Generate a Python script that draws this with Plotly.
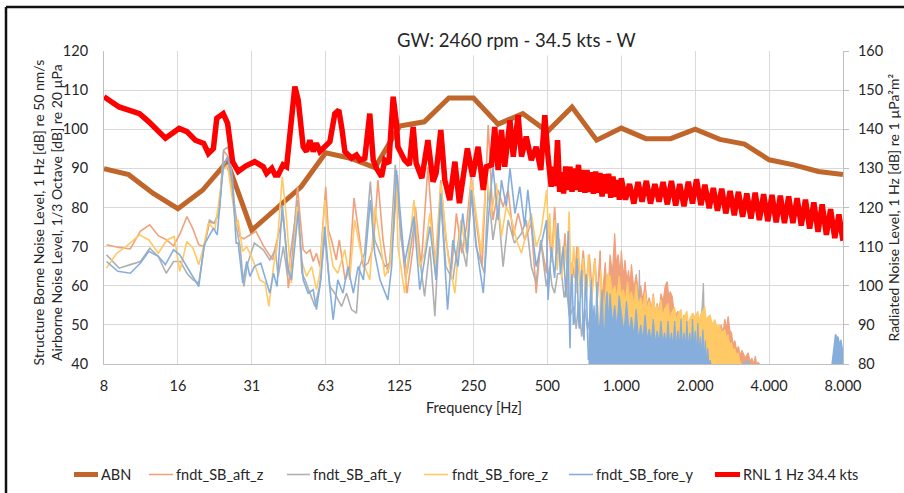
import math
import plotly.graph_objects as go

# ---------------- data ----------------
x_tick_vals = [7.8125, 15.625, 31.25, 62.5, 125, 250, 500, 1000, 2000, 4000, 8000]
x_tick_text = ["8", "16", "31", "63", "125", "250", "500", "1.000", "2.000", "4.000", "8.000"]

abn_f = [7.8125, 9.843, 12.402, 15.625, 19.686, 24.803, 31.25, 39.373, 49.606, 62.5, 78.745,
         99.213, 125, 157.49, 198.43, 250, 314.98, 396.85, 500, 629.96, 793.7, 1000, 1259.9,
         1587.4, 2000, 2519.8, 3174.8, 4000, 5039.7, 6349.6, 8000]
abn_v = [89.9, 88.4, 83.6, 79.7, 84.4, 91.7, 74.2, 79.9, 85.3, 94.0, 92.6, 90.2, 100.8, 101.9,
         108.0, 108.0, 101.3, 104.0, 99.4, 105.7, 97.2, 100.3, 97.6, 97.6, 100.0, 97.4, 96.2,
         92.2, 90.9, 89.2, 88.4]

aft_z_f = [8, 9, 10, 11, 12, 13, 14, 15, 16, 17, 18, 19, 20, 21, 22, 23, 24, 25, 26, 27, 28, 29,
           30, 32.5, 35, 38, 39, 40, 42, 43.3, 44, 45.3, 48, 49, 50.6, 52.2, 54, 55.6, 57.3, 59.2,
           62.5, 64, 66, 69, 71, 75, 78, 81.5, 86, 89, 93, 97.6, 102, 107, 112, 117.7, 122.5,
           125, 134, 142, 145, 153, 163, 171, 176, 184, 193, 203, 213, 224, 234, 245, 256, 271,
           287, 300, 315, 330, 346, 363, 380, 404, 430, 450, 470, 495,
           503, 520, 535, 550, 562, 575, 590, 605, 618, 630, 645, 660, 680, 700, 720, 740, 760,
           780, 800, 820, 830]
aft_z_v = [70.5, 69.8, 69.4, 74.0, 75.6, 72.8, 71.8, 70.2, 73.5, 77.7, 74.5, 70.5, 70.0, 76.2,
           76.0, 78.5, 94.5, 93.0, 84.0, 77.5, 72.5, 72.0, 72.6, 73.9, 70.0, 66.6, 70.0, 72.6,
           78.0, 68.3, 59.4, 64.9, 85.3, 78.5, 69.2, 68.3, 69.2, 66.2, 68.3, 64.9, 85.3, 74.3,
           71.7, 66.6, 71.7, 61.5, 64.0, 82.4, 71.7, 64.9, 65.8, 70.0, 87.0, 71.7, 63.2, 72.6,
           88.3, 76.8, 58.1, 70.0, 80.2, 64.9, 90.4, 71.7, 61.5, 87.0, 71.7, 63.2, 78.5, 68.3,
           75.1, 87.9, 76.8, 64.9, 101.1, 76.8, 84.5, 80.2, 84.5, 72.6, 78.5, 71.7, 76.0, 58.1,
           71.7, 63.2,
           76.8, 66.0, 80.2, 68.0, 70.0, 64.0, 73.4, 60.0, 51.3, 66.0, 62.0, 70.0, 60.0, 69.0,
           58.0, 68.0, 59.0, 67.0, 57.0, 69.0, 42.0]
aft_z_hi_f = [830, 840, 860, 880,
              900, 920, 940, 955, 970, 990, 1000, 1020, 1035, 1055, 1070, 1085, 1100, 1125, 1150,
              1175, 1200, 1225, 1250, 1275, 1300, 1325, 1350, 1375, 1400, 1425, 1450, 1480, 1510,
              1540, 1560, 1580, 1612, 1650, 1700, 1750, 1800, 1850, 1900, 1950, 2000, 2050, 2100,
              2150, 2200, 2250, 2300, 2350, 2404, 2480, 2550, 2600, 2640, 2680, 2724, 2770, 2811,
              2850, 2900, 2950, 3000, 3050, 3100, 3200, 3285, 3350, 3400, 3460, 3518, 3560, 3600,
              3700, 3800]
aft_z_hi_v = [42, 58, 66, 56,
              68, 63, 73.4, 65, 68, 63, 69, 62, 66.6, 61, 64, 60, 65.5, 59, 63, 58, 60, 56, 61,
              55, 57, 54, 58, 53, 55.5, 53, 58, 56, 60, 61.1, 57, 58.5, 57.3, 52, 53.5, 50, 52.5,
              49.5, 51, 48.5, 50.5, 48, 50, 47.5, 49.5, 47, 49, 46.5, 48.5, 47, 50, 48, 51.5, 49,
              52.2, 48.5, 48.0, 45, 46, 43.5, 44.5, 42, 43.5, 41.5, 42.9, 40.5, 41.5, 40, 42.0,
              39.5, 40.5, 39.5, 39.0]

aft_y_f = [8, 9, 10, 11, 12, 13, 14, 15, 16, 17, 18, 19, 20, 21, 22, 23, 24, 25, 26, 27, 28, 29,
           30, 32, 34.8, 37, 39, 40, 42, 43.7, 48, 50, 51.5, 54, 56.5, 59, 62, 65, 68, 72.5, 76,
           79.6, 83.4, 86, 90, 95, 99, 104, 108.8, 114, 120, 127, 134, 144, 154, 158, 166, 174,
           184, 193, 206, 219, 234, 245, 256, 277, 287, 300, 315, 330, 346, 367, 392, 410, 430,
           450, 470, 495,
           511, 522, 535, 550, 571, 585, 598, 615, 640, 655, 670, 690, 710, 730, 750, 770, 790,
           800]
aft_y_v = [67.9, 64.5, 65.4, 66.2, 69.6, 67.5, 63.2, 66.2, 66.2, 63.2, 61.5, 60.7, 70.0, 76.8,
           76.0, 79.0, 94.7, 95.5, 87.9, 75.1, 70.0, 59.8, 65.5, 70.9, 69.2, 66.6, 69.2, 62.4,
           70.0, 62.4, 81.9, 63.2, 61.5, 58.1, 54.7, 59.8, 72.6, 59.8, 58.1, 54.7, 58.1, 53.9,
           53.0, 64.9, 68.3, 86.6, 71.7, 68.3, 64.9, 65.8, 90.9, 71.7, 63.2, 76.8, 63.2, 57.3,
           70.0, 52.2, 81.9, 64.9, 61.5, 73.4, 64.9, 83.6, 70.0, 63.2, 85.3, 71.7, 80.2, 64.9,
           76.8, 70.9, 73.4, 76.8, 64.9, 60.7, 71.7, 59.8,
           64.9, 60.0, 58.1, 63.0, 63.2, 57.0, 59.8, 52.0, 54.7, 49.0, 56.0, 47.0, 54.0, 48.8,
           53.0, 46.2, 52.0, 41.0]
aft_y_hi_f = [800, 815, 840, 870,
              900, 925, 950, 975, 1000, 1025, 1050, 1075, 1100, 1135, 1170, 1185, 1200, 1250,
              1300, 1350, 1400, 1450, 1500, 1550, 1600, 1650, 1700, 1750, 1800, 1850, 1900, 1950,
              2000, 2050, 2100, 2140, 2160, 2180, 2250, 2300, 2350, 2450, 2500, 2600, 2700, 2800,
              2900, 3000, 3100, 3300, 3400]
aft_y_hi_v = [41, 46, 51, 45,
              50, 46, 48, 45, 50, 45, 47, 44, 49, 44, 47, 64.0, 48, 44, 46, 43, 45, 42, 44, 42,
              46, 42, 44, 42, 45, 42, 44, 42, 46, 43, 47, 55, 60.7, 50, 46, 42, 44, 41, 43, 40.5,
              42, 39.5, 41, 39.5, 40, 41, 39]

fore_z_f = [8, 8.8, 9.6, 10.9, 11.9, 13, 14.1, 15.1, 15.9, 17, 18, 19, 19.9, 20.8, 22.1, 23.9,
            24.9, 26, 27, 27.5, 28.7, 29.8, 31.6, 33.7, 35.4, 36.7, 38.3, 39.6, 41.6, 43.3, 45.3,
            47.8, 49.8, 52.2, 54.8, 57.3, 59.2, 62, 64, 67, 70, 74.8, 78.3, 82, 86, 90, 94.5, 99,
            104, 108.8, 114, 121.4, 123, 131, 143, 151, 158, 166, 174, 184, 197, 210, 222, 234,
            245, 256, 269, 282, 296, 310, 325, 340, 358, 374, 392, 410, 430, 450, 470, 497,
            505, 511, 522, 535, 548, 560, 571, 590, 602, 613, 625, 640, 655, 669, 685, 700, 715,
            735, 755, 780, 800, 812]
fore_z_v = [64.5, 68.3, 70.0, 73.0, 71.7, 68.3, 71.7, 72.6, 63.7, 71.3, 69.6, 65.4, 70.0, 76.0,
            74.3, 89.6, 90.9, 81.9, 75.1, 76.8, 68.8, 70.0, 66.6, 61.5, 60.7, 54.7, 64.9, 70.0,
            87.9, 76.8, 60.7, 80.2, 66.6, 62.4, 64.9, 59.0, 63.2, 81.9, 72.6, 64.9, 63.2, 69.2,
            61.5, 76.8, 70.0, 64.9, 61.5, 80.2, 71.7, 62.4, 64.9, 87.9, 70.0, 58.1, 81.9, 64.9,
            68.3, 78.5, 64.9, 86.2, 67.5, 58.1, 76.8, 68.3, 87.0, 78.5, 68.3, 88.7, 78.5, 86.2,
            72.6, 80.2, 76.8, 71.7, 68.3, 73.4, 78.5, 70.0, 73.4, 84.5,
            72.0, 78.5, 66.0, 76.8, 64.0, 72.0, 62.0, 70.0, 64.0, 79.0, 60.0, 70.0, 58.0, 70.0,
            57.0, 67.0, 56.0, 68.0, 55.0, 66.6, 54.0, 42.0]
fore_z_hi_f = [812, 825, 850, 875,
               900, 920, 940, 960, 980, 1000, 1020, 1040, 1060, 1080, 1100, 1125, 1150, 1175,
               1200, 1225, 1250, 1275, 1300, 1325, 1350, 1375, 1400, 1425, 1450, 1475, 1500, 1550,
               1575, 1600, 1650, 1675, 1700, 1750, 1775, 1800, 1850, 1875, 1900, 1950, 2000, 2050,
               2075, 2100, 2150, 2186, 2220, 2250, 2300, 2350, 2404, 2450, 2500, 2570, 2640, 2680,
               2720, 2760, 2811, 2850, 2900, 2950, 2992, 3040, 3087, 3150]
fore_z_hi_v = [42, 64, 53, 63,
               62.4, 58, 60, 57, 62.5, 57.5, 59, 56, 61, 56.5, 58.5, 55, 60.5, 55, 57, 54, 58.5,
               54, 56, 53, 57.5, 53, 55, 52.5, 56.5, 52, 54, 55.5, 51.5, 53, 54.5, 51, 52.5, 54,
               50.5, 52, 53.5, 50, 51.5, 53, 52, 53.5, 50.5, 52.5, 53.5, 54.8, 51, 52, 52.5, 50,
               51.4, 49.5, 50, 48, 48.8, 46.5, 47.5, 45, 45.4, 43.5, 44, 42, 42.9, 40.5, 40.0, 38]

fore_y_f = [8, 8.9, 10, 11, 11.9, 13, 13.9, 15, 15.9, 17, 18, 19, 20, 20.8, 21.8, 22.6, 23.9,
            24.9, 26, 27, 27.5, 28.7, 29.8, 30.7, 32, 34, 36, 37, 38.3, 39.6, 41.6, 43.7, 45.3,
            48.3, 50.6, 53, 55.6, 57.3, 59.7, 62, 64.5, 67, 70, 73.5, 77, 81, 84.7, 89, 95, 99,
            104, 112, 116, 121.4, 131, 137, 143, 151, 158, 166, 176, 184, 196, 206, 216, 226, 236,
            245, 256, 274, 287, 300, 315, 325, 340, 352, 369, 386, 404, 416, 436, 450, 470, 496,
            503, 519, 535, 552, 565, 580, 595, 602, 608, 613, 618, 624, 630, 638, 645, 652, 660,
            668, 675, 682, 690, 698, 705, 712, 720, 728, 735]
fore_y_v = [66.2, 63.7, 63.2, 65.8, 68.8, 67.5, 65.4, 69.2, 67.9, 64.9, 62.4, 59.8, 70.5, 72.6,
            74.7, 73.0, 90.4, 93.0, 87.0, 70.9, 70.9, 60.7, 66.2, 62.4, 64.9, 65.8, 60.7, 58.1,
            63.2, 59.8, 80.7, 64.9, 61.5, 79.0, 61.5, 58.1, 59.0, 53.9, 61.5, 75.1, 61.5, 51.3,
            61.5, 58.1, 64.9, 58.1, 64.9, 61.5, 81.9, 68.3, 61.5, 56.4, 64.9, 89.6, 65.8, 71.7,
            77.7, 59.0, 66.6, 75.1, 61.5, 83.6, 53.9, 71.7, 64.9, 78.5, 68.3, 84.5, 70.9, 58.1,
            76.8, 90.4, 76.8, 87.0, 80.2, 90.0, 78.5, 85.3, 75.1, 84.5, 72.6, 64.9, 70.0, 76.8,
            56.4, 70.0, 62.0, 76.0, 63.0, 70.0, 57.0, 68.0, 74.0, 55.0, 44.0, 60.0, 63.0, 50.0,
            51.0, 62.0, 67.0, 52.0, 49.0, 60.0, 64.0, 50.0, 46.0, 58.0, 63.0, 48.0, 41.0]
fore_y_hi_f = [735, 745, 755, 765, 775, 785, 795, 805, 815, 825, 835, 845, 855, 865, 875, 888,
               900, 920, 940, 960, 980, 1000, 1025, 1050, 1075, 1100, 1125, 1150, 1175,
               1200, 1225, 1250, 1275, 1300, 1325, 1350, 1375, 1400, 1425, 1450, 1475, 1500, 1525,
               1550, 1575, 1600, 1625, 1650, 1675, 1700, 1725, 1750, 1775, 1800, 1825, 1850, 1875,
               1900, 1925, 1950, 1975, 2000, 2025, 2050, 2075, 2100, 2125, 2150, 2175, 2200, 2225,
               2250, 2280, 2300, 2350, 7150, 7250, 7350, 7450, 7550, 7650, 7750, 7850, 7950, 8000]
fore_y_hi_v = [41, 56, 61.5, 50, 55, 48, 61, 50, 49, 56, 59, 49, 48, 55, 58.5, 50,
               58, 50, 55, 49, 57.5, 53, 48, 56, 48, 52, 47, 54, 46, 50, 46, 52.5, 46, 49, 45.5,
               51.5, 45, 48.5, 45, 51, 45, 48, 44.5, 51, 44.5, 48, 44, 51, 44, 48.5, 44, 51.5, 44,
               48, 43.5, 51, 43.5, 48, 43, 51.5, 43, 48.5, 42, 50.5, 42, 47, 41, 48.8, 40, 46, 39,
               44, 38.5, 41, 38, 38, 41, 45.5, 47.6, 47.0, 46.8, 45.0, 46.2, 44.0, 43.2]

rnl_f = [7.8125, 9.0, 10.9, 11.9, 13.9, 15.8, 17.0, 18.4, 19.9, 20.8, 21.8, 22.5, 23.9, 24.9,
         26.1, 27.5, 29.5, 32.1, 34.8, 35.9, 37.7, 38.9, 40.0, 41.9, 43.3, 45.3, 46.8, 48.3, 50.6,
         52.2, 53.9, 55.6, 57.3, 59.2, 61.0, 65.0, 68.1, 70.7, 72.9, 74.8, 79.6, 83.4, 86.1, 90.2,
         94.5, 97.6, 100.7, 105.5, 108.8, 113.0, 117.7, 121.4, 123, 131, 137, 142, 146, 154, 163,
         171, 176, 184, 191, 200, 210, 219, 226, 236, 248, 261, 274, 282, 296, 305, 315, 325,
         335, 352, 363, 380, 392, 410, 430, 450, 470, 488, 503, 518, 526, 538, 550, 561, 571,
         582, 594, 606, 618, 630, 643, 656, 669, 683, 697, 711, 725, 740, 755, 770, 786, 802,
         818, 835, 852, 870, 888, 906, 925, 944, 963, 982, 1000, 1040, 1080, 1125, 1170, 1215,
         1265, 1315, 1370, 1425, 1480, 1540, 1600, 1665, 1730, 1800, 1875, 1950, 2025, 2110,
         2190, 2280, 2370, 2465, 2565, 2665, 2775, 2885, 3000, 3120, 3245, 3375, 3510, 3650,
         3800, 3950, 4110, 4275, 4445, 4620, 4805, 5000, 5200, 5410, 5625, 5850, 6085, 6330,
         6580, 6845, 7120, 7405, 7700, 8000]
rnl_v = [148.3, 145.7, 144.0, 141.9, 137.7, 140.2, 139.4, 137.2, 136.4, 133.8, 135.1, 142.8,
         144.0, 141.5, 131.7, 129.2, 130.6, 131.7, 130.4, 128.7, 130.0, 128.3, 128.3, 130.9,
         130.4, 143.2, 150.9, 147.4, 135.5, 134.3, 137.2, 134.3, 136.4, 134.3, 135.1, 136.8,
         144.0, 144.9, 139.8, 134.3, 132.6, 133.4, 132.1, 132.6, 144.0, 132.1, 130.0, 127.9,
         132.1, 131.3, 148.3, 141.5, 135.5, 132.1, 130.9, 140.6, 131.3, 127.5, 137.2, 126.6,
         128.7, 139.8, 127.0, 121.9, 131.7, 121.1, 127.0, 135.1, 127.9, 135.5, 124.5, 130.4,
         130.9, 140.6, 129.6, 139.8, 130.4, 142.3, 133.0, 143.6, 133.0, 138.1, 132.1, 135.5,
         129.6, 143.6, 133.0, 125.3, 130.4, 125.5, 137.2, 124.0, 129.0, 123.6, 130.5, 124.5,
         130.4, 124.0, 130.0, 124.5, 130.9, 124.0, 129.6, 123.8, 129.6, 124.0, 129.0, 123.5,
         129.2, 123.8, 128.8, 122.8, 128.5, 123.6, 128.6, 122.5, 127.9, 122.8, 127.0, 122.0,
         127.5, 122.0, 126.0, 121.0, 126.5, 121.5, 126.8, 121.0, 126.0, 121.5, 126.5, 120.8,
         126.8, 120.5, 126.0, 120.3, 126.6, 121.0, 127.2, 120.6, 125.8, 119.8, 125.0, 119.2,
         124.8, 118.5, 124.2, 118.0, 124.0, 117.6, 123.6, 117.2, 123.8, 116.8, 123.4, 116.5,
         123.2, 116.2, 123.0, 116.0, 122.8, 116.0, 122.4, 115.4, 122.0, 114.6, 121.3, 113.8,
         120.8, 113.0, 119.6, 112.2, 118.2, 111.5]

# ---------------- styles ----------------
FONT = "Lato"
TXT = "#262626"
C_ABN = "#C0662A"
C_AZ = "#F0A07A"
C_AY = "#B0B0B0"
C_FZ = "#FFC966"
C_FY = "#86AEDC"
C_RNL = "#FF0000"
GRID = "#D9D9D9"
FS = 14.5

W, H = 904, 493
ML, MR, MT, MB = 104, 61, 51, 129
PW, PH = W - ML - MR, H - MT - MB


def px(x):
    return (x - ML) / PW


def py(y):
    return (H - MB - y) / PH


fig = go.Figure()

fig.add_trace(go.Scatter(x=abn_f, y=abn_v, mode="lines", line=dict(color=C_ABN, width=5),
                         name="ABN"))

series = [
    (aft_z_f, aft_z_v, aft_z_hi_f, aft_z_hi_v, C_AZ, "fndt_SB_aft_z"),
    (aft_y_f, aft_y_v, aft_y_hi_f, aft_y_hi_v, C_AY, "fndt_SB_aft_y"),
    (fore_z_f, fore_z_v, fore_z_hi_f, fore_z_hi_v, C_FZ, "fndt_SB_fore_z"),
    (fore_y_f, fore_y_v, fore_y_hi_f, fore_y_hi_v, C_FY, "fndt_SB_fore_y"),
]
for lf, lv, hf, hv, col, nm in series:
    fig.add_trace(go.Scatter(x=lf, y=lv, mode="lines", line=dict(color=col, width=1.6), name=nm))
    fig.add_trace(go.Scatter(x=hf, y=hv, mode="lines", line=dict(color=col, width=1.2),
                             fill="tozeroy", fillcolor=col, name=nm, showlegend=False))

fig.add_trace(go.Scatter(x=rnl_f, y=rnl_v, mode="lines", yaxis="y2",
                         line=dict(color=C_RNL, width=5.5), name="RNL 1 Hz 34.4 kts"))

fig.update_layout(
    width=W, height=H,
    margin=dict(l=ML, r=MR, t=MT, b=MB),
    paper_bgcolor="white", plot_bgcolor="white",
    showlegend=False,
    font=dict(family=FONT, size=FS, color=TXT),
    xaxis=dict(type="log", range=[math.log10(7.8125), math.log10(8000)],
               tickvals=x_tick_vals, ticktext=x_tick_text, showgrid=True, gridcolor=GRID,
               gridwidth=1, showline=True, linecolor="#BFBFBF", linewidth=1, ticks="",
               ticklabelstandoff=9, zeroline=False, tickfont=dict(size=FS, color=TXT)),
    yaxis=dict(range=[40, 120], dtick=10, tick0=40, showgrid=True, gridcolor=GRID, gridwidth=1,
               showline=True, linecolor="#BFBFBF", linewidth=1, ticks="", zeroline=False,
               ticklabelstandoff=12, tickfont=dict(size=FS, color=TXT)),
    yaxis2=dict(range=[80, 160], dtick=10, tick0=80, overlaying="y", side="right",
                showgrid=False, showline=True, linecolor="#BFBFBF", linewidth=1,
                ticks="outside", ticklen=5, tickcolor="#BFBFBF", zeroline=False,
                ticklabelstandoff=6, tickfont=dict(size=FS, color=TXT)),
)

ann = []
ann.append(dict(text="GW: 2460 rpm - 34.5 kts - W", x=px(516), y=py(40), xref="paper",
                yref="paper", xanchor="center", yanchor="middle", showarrow=False,
                bgcolor="white", borderpad=4, font=dict(size=18.5, color=TXT)))
ann.append(dict(text="Frequency [Hz]", x=px(473.5), y=py(407), xref="paper", yref="paper",
                xanchor="center", yanchor="middle", showarrow=False,
                font=dict(size=FS, color=TXT)))
ann.append(dict(text="Structure Borne Noise Level, 1 Hz [dB] re 50 nm/s<br>"
                     "Airborne Noise Level, 1/3 Octave [dB] re 20 µPa",
                x=px(46.5), y=py(213), xref="paper", yref="paper", textangle=-90,
                xanchor="center", yanchor="middle", showarrow=False,
                font=dict(size=14, color=TXT)))
ann.append(dict(text="Radiated Noise Level, 1 Hz [dB] re 1 µPa²m²",
                x=px(893), y=py(207.5), xref="paper", yref="paper", textangle=-90,
                xanchor="center", yanchor="middle", showarrow=False,
                font=dict(size=14, color=TXT)))

legend_items = [
    ("ABN", C_ABN, 5, 74, 98, 99),
    ("fndt_SB_aft_z", C_AZ, 1.6, 149, 173, 174),
    ("fndt_SB_aft_y", C_AY, 1.6, 287, 310, 311),
    ("fndt_SB_fore_z", C_FZ, 1.6, 424, 448, 450),
    ("fndt_SB_fore_y", C_FY, 1.6, 569, 593, 594),
    ("RNL 1 Hz 34.4 kts", C_RNL, 5, 715, 740, 741),
]
shapes = []
LY = 474.5
for name, col, wdt, x0, x1, tx in legend_items:
    shapes.append(dict(type="line", xref="paper", yref="paper", x0=px(x0), x1=px(x1),
                       y0=py(LY), y1=py(LY), line=dict(color=col, width=wdt)))
    ann.append(dict(text=name, x=px(tx), y=py(LY), xref="paper", yref="paper", xanchor="left",
                    yanchor="middle", showarrow=False, font=dict(size=FS, color=TXT)))

# outer chart frame
shapes.append(dict(type="line", xref="paper", yref="paper", x0=px(6), x1=px(906), y0=py(7),
                   y1=py(7), line=dict(color="#111111", width=2.5)))
shapes.append(dict(type="line", xref="paper", yref="paper", x0=px(6), x1=px(6), y0=py(7),
                   y1=py(495), line=dict(color="#111111", width=2.5)))

fig.update_layout(annotations=ann, shapes=shapes)

fig.write_html("out.html")
